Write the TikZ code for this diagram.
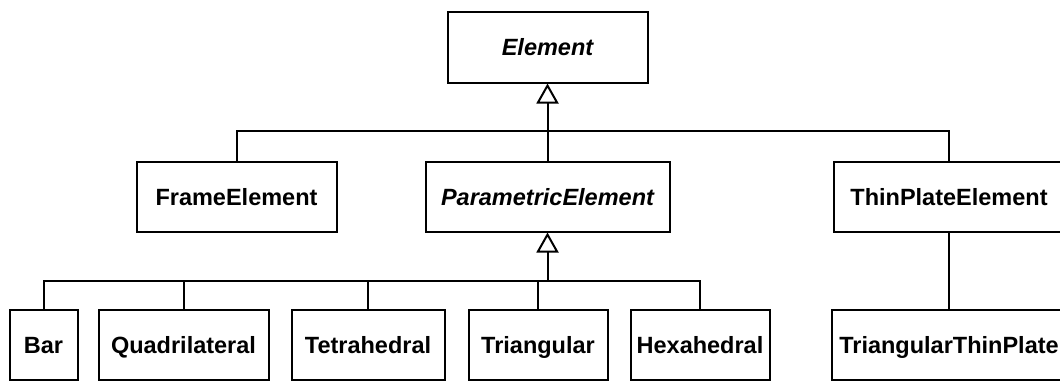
\documentclass[tikz,border=0pt]{standalone}
\usepackage{fontspec}
\setmainfont{Liberation Sans}
\usetikzlibrary{arrows.meta}
\begin{document}
\begin{tikzpicture}[x=1pt,y=-1pt,
  box/.style={draw=black, line width=2pt, fill=white, inner sep=0pt,
    text height=17pt, text depth=0pt,
    font=\bfseries\fontsize{23.5}{25}\selectfont},
  abox/.style={box, font=\bfseries\itshape\fontsize{23.5}{25}\selectfont},
  link/.style={draw=black, line width=2pt},
  inherit/.style={link, -{Triangle[open, length=20pt, width=22pt, line width=2pt]}}]
\fill[white] (0,0) rectangle (1060,381);
\useasboundingbox (0,0) rectangle (1060,381);
\clip (0,0) rectangle (1060,381);
% top
\node[abox, minimum width=200pt, minimum height=71pt] (elem) at (547.5,47) {Element};
% middle
\node[box, minimum width=200pt, minimum height=70pt] (frame) at (236.5,196.5) {FrameElement};
\node[abox, minimum width=244pt, minimum height=70pt] (param) at (547.5,196.5) {ParametricElement};
\node[box, minimum width=231pt, minimum height=70pt] (thin) at (949,196.5) {ThinPlateElement};
% bottom
\node[box, minimum width=68pt, minimum height=70pt] (bar) at (43.5,345) {Bar};
\node[box, minimum width=170pt, minimum height=70pt] (quad) at (183.5,345) {Quadrilateral};
\node[box, minimum width=153pt, minimum height=70pt] (tetra) at (368,345) {Tetrahedral};
\node[box, minimum width=139pt, minimum height=70pt] (tri) at (538,345) {Triangular};
\node[box, minimum width=139pt, minimum height=70pt] (hexa) at (700,345) {Hexahedral};
\node[box, minimum width=234pt, minimum height=70pt] (ttp) at (949,345) {TriangularThinPlate};
% junctions
\coordinate (j1) at (547.5,131);
\coordinate (j2) at (547.5,281);
% level 1 connectors
\draw[inherit] (j1) -- (elem.south);
\draw[link] (frame.north) |- (j1) -| (thin.north);
\draw[link] (param.north) -- (j1);
% level 2 connectors
\draw[inherit] (j2) -- (param.south);
\draw[link] (bar.north) |- (j2) -| (hexa.north);
\draw[link] (quad.north) -- (quad.north |- j2);
\draw[link] (tetra.north) -- (tetra.north |- j2);
\draw[link] (tri.north) -- (tri.north |- j2);
% thin plate
\draw[link] (thin.south) -- (ttp.north);
\end{tikzpicture}
\end{document}
